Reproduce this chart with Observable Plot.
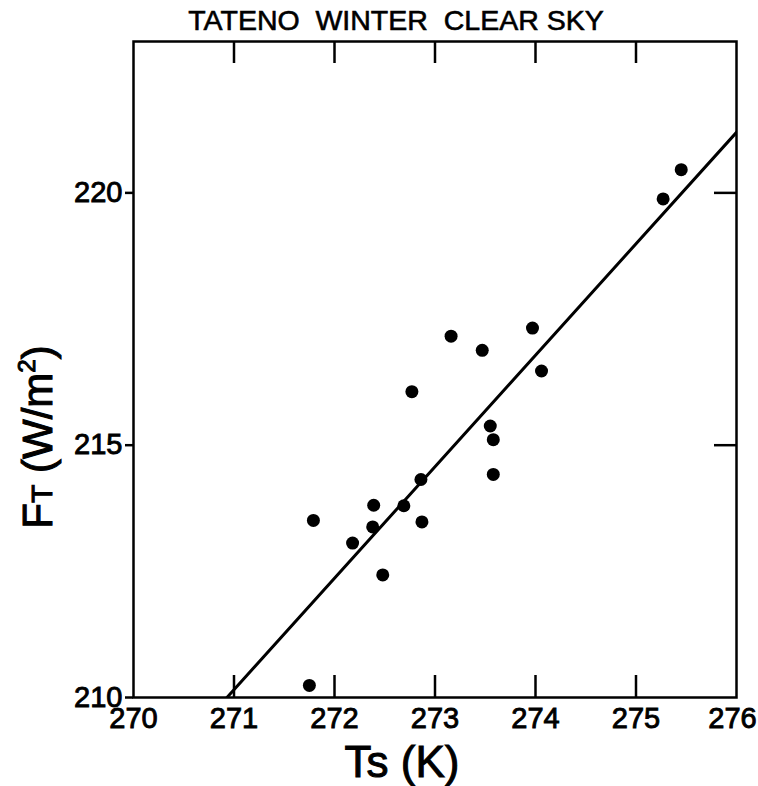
<!DOCTYPE html>
<html>
<head>
<meta charset="utf-8">
<script src="https://cdn.jsdelivr.net/npm/d3@7"></script>
<script src="https://cdn.jsdelivr.net/npm/@observablehq/plot@0.6"></script>
<style>
  body { margin: 0; background: #fff; }
  svg text { font-family: "Liberation Sans", Arial, sans-serif; }
</style>
</head>
<body>
<div id="chart"></div>
<script>
// ---- data ----
const titleText = "TATENO  WINTER  CLEAR SKY";
const xLabelMain = "Ts (K)";
const xTicks = [270, 271, 272, 273, 274, 275, 276];
const yTicks = [210, 215, 220];
const xInnerTicks = [271, 272, 273, 274, 275];
const yInnerTicks = [215, 220];

// surface temperature Ts (K)
const ts = [271.75, 271.79, 272.18, 272.39, 272.38, 272.48, 272.69, 272.77, 272.86, 272.87,
            273.16, 273.47, 273.55, 273.58, 273.58, 273.97, 274.06, 275.27, 275.45];
// outgoing flux FT (W/m2)
const ft = [210.24, 213.51, 213.06, 213.81, 213.38, 212.43, 213.80, 216.06, 214.32, 213.48,
            217.16, 216.88, 215.38, 215.11, 214.42, 217.32, 216.47, 219.88, 220.46];

// fitted line end points
const fitTs = [270.93, 276];
const fitFt = [210, 221.2];

const points = ts.map((t, i) => ({t, f: ft[i]}));
const fitLine = fitTs.map((t, i) => ({t, f: fitFt[i]}));

// ---- layout ----
const W = 758, H = 786;
const mL = 133, mR = 22, mT = 41, mB = 89;
const plotW = W - mL - mR, plotH = H - mT - mB;
const tickLen = 22;

const chart = Plot.plot({
  width: W,
  height: H,
  marginLeft: mL,
  marginRight: mR,
  marginTop: mT,
  marginBottom: mB,
  style: {fontFamily: "Liberation Sans, Arial, sans-serif", background: "#fff", color: "#000"},
  x: {domain: [270, 276], label: null},
  y: {domain: [210, 223], label: null},
  marks: [
    Plot.axisX({ticks: xTicks, tickSize: 0, tickPadding: 10, fontSize: 29, tickFormat: d => String(d)}),
    Plot.axisY({ticks: yTicks, tickSize: 8, tickPadding: 3, fontSize: 29, strokeWidth: 2.5, tickFormat: d => String(d)}),
    // inward ticks
    Plot.tickX(xInnerTicks, {x: d => d, insetTop: plotH - tickLen, stroke: "#000", strokeWidth: 2.5}),
    Plot.tickX(xInnerTicks, {x: d => d, insetBottom: plotH - tickLen, stroke: "#000", strokeWidth: 2.5}),
    Plot.tickY(yInnerTicks, {y: d => d, insetLeft: plotW - tickLen, stroke: "#000", strokeWidth: 2.5}),
    Plot.frame({stroke: "#000", strokeWidth: 2.5}),
    Plot.line(fitLine, {x: "t", y: "f", stroke: "#000", strokeWidth: 3, clip: true}),
    Plot.dot(points, {x: "t", y: "f", r: 6.5, fill: "#000", stroke: "none"})
  ]
});

document.getElementById("chart").appendChild(chart);

const svg = d3.select(chart);

// heavier pen for the tick labels (the only texts Plot drew)
svg.selectAll("text")
  .style("stroke", "#000")
  .style("stroke-width", "0.9px");

// keep the last x tick label inside the picture
const xLabs = svg.selectAll('g[aria-label="x-axis tick label"] text').nodes();
if (xLabs.length) d3.select(xLabs[xLabs.length - 1]).attr("dx", -4);

// title
svg.append("text")
  .attr("x", 396)
  .attr("y", 30)
  .attr("text-anchor", "middle")
  .attr("font-size", 28.5)
  .style("white-space", "pre")
  .style("stroke", "#000")
  .style("stroke-width", "0.6px")
  .attr("fill", "#000")
  .text(titleText);

// x label
svg.append("text")
  .attr("x", 402)
  .attr("y", 777)
  .attr("text-anchor", "middle")
  .attr("font-size", 44)
  .style("stroke", "#000")
  .style("stroke-width", "1px")
  .attr("fill", "#000")
  .text(xLabelMain);

// y label: F with small-cap T, (W/m²)
const yl = svg.append("text")
  .attr("transform", "translate(52,437) rotate(-90)")
  .attr("text-anchor", "middle")
  .attr("font-size", 42)
  .style("stroke", "#000")
  .style("stroke-width", "1px")
  .attr("fill", "#000");
yl.append("tspan").text("F");
yl.append("tspan").attr("font-size", 30).text("T");
yl.append("tspan").text(" (W/m");
yl.append("tspan").attr("font-size", 24).attr("dy", -17).text("2");
yl.append("tspan").attr("dy", 17).text(")");
</script>
</body>
</html>
